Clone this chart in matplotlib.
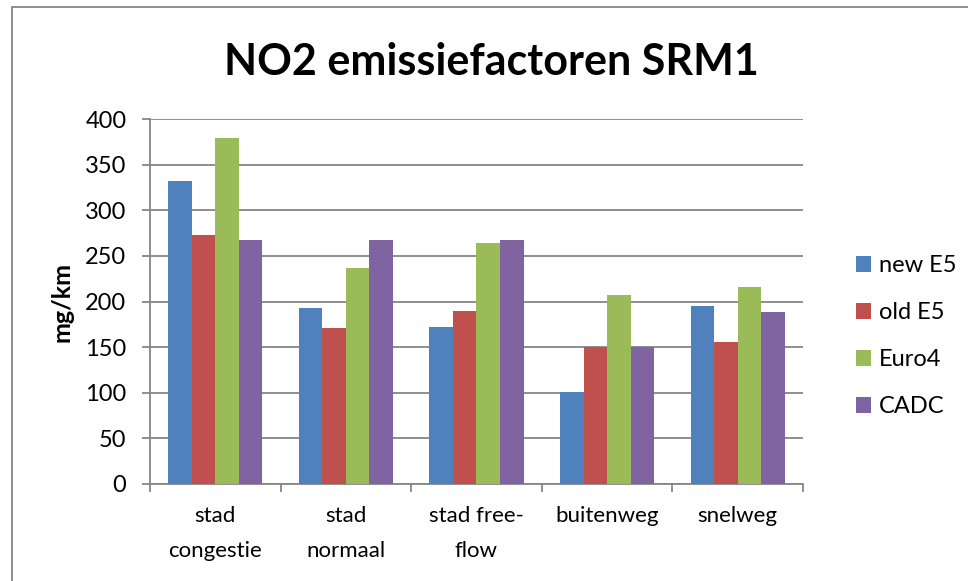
import numpy as np
import matplotlib.pyplot as plt
from matplotlib.patches import Rectangle

# data
categories = ['stad\ncongestie', 'stad\nnormaal', 'stad free-\nflow', 'buitenweg', 'snelweg']
series = ['new E5', 'old E5', 'Euro4', 'CADC']
new_e5 = [332, 193, 172, 101, 195]
old_e5 = [273, 171, 190, 150, 156]
euro4 = [379, 237, 264, 207, 216]
cadc = [267, 267, 267, 150, 189]
colors = ['#4F81BD', '#C0504D', '#9BBB59', '#8064A2']

plt.rcParams['font.family'] = ['Lato', 'DejaVu Sans']

fig = plt.figure(figsize=(9.68, 5.81), dpi=100)
ax = fig.add_axes([0.155, 0.167, 0.6745, 0.628])

# outer chart border (only top and left visible in the crop)
fig.patches.append(Rectangle((12 / 968, -0.05), 1.1, 1.05 - 7 / 581, transform=fig.transFigure,
                             fill=False, edgecolor='#868686', linewidth=1.3))

x = np.arange(len(categories))
w = 0.18
for i, vals in enumerate([new_e5, old_e5, euro4, cadc]):
    ax.bar(x + (i - 1.5) * w, vals, w, color=colors[i], label=series[i], zorder=3)

ax.set_xlim(-0.5, len(categories) - 0.5)
ax.set_ylim(0, 400)
ax.set_yticks(range(0, 401, 50))
ax.grid(axis='y', color='#868686', linewidth=1.3, zorder=0)

ax.set_xticks(x)
ax.set_xticklabels(categories, fontsize=16, linespacing=1.9)
ax.set_xticks(np.arange(-0.5, len(categories), 1), minor=True)
ax.tick_params(axis='x', which='major', length=0, pad=16)
ax.tick_params(axis='x', which='minor', length=6, width=1.3, color='#868686')
ax.tick_params(axis='y', length=6, width=1.3, color='#868686', labelsize=17, pad=11)

for s in ['top', 'right']:
    ax.spines[s].set_visible(False)
for s in ['left', 'bottom']:
    ax.spines[s].set_color('#868686')
    ax.spines[s].set_linewidth(1.3)

ax.set_ylabel('mg/km', fontsize=18, fontweight='bold', labelpad=8)
fig.text(0.508, 0.893, 'NO2 emissiefactoren SRM1', fontsize=31, fontweight='bold',
         ha='center', va='center')

ax.legend(loc='center left', bbox_to_anchor=(1.063, 0.405), frameon=False, fontsize=17,
          borderpad=0, handlelength=0.64, handleheight=0.64, labelspacing=1.1,
          handletextpad=0.35)

fig.savefig('out.png', dpi=100)
